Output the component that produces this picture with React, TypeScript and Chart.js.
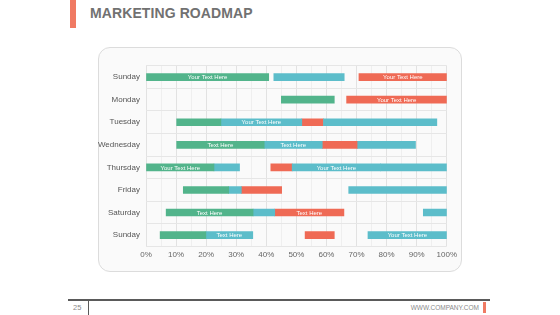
import React, { useEffect, useRef } from "react";
import { Chart, registerables } from "chart.js";

Chart.register(...registerables);

const categories = ["Sunday", "Monday", "Tuesday", "Wednesday", "Thursday", "Friday", "Saturday", "Sunday"];
const xTickValues = [0, 10, 20, 30, 40, 50, 60, 70, 80, 90, 100];

type Seg = [number, number] | null;

const greenBars: Seg[] = [[0, 40.8], [45, 62.6], [10.2, 24.9], [10.2, 39.3], [0, 22.6], [12.4, 27.5], [6.7, 35.6], [4.7, 19.9]];
const cyanBarsA: Seg[] = [[42.5, 65.9], null, [24.9, 51.8], [39.3, 58.6], [22.6, 31.1], [27.5, 31.7], [35.6, 42.8], [19.9, 35.5]];
const cyanBarsB: Seg[] = [null, null, [59, 96.7], [70.4, 89.6], [48.6, 78], [67.4, 100], [92.2, 100], [73.8, 100]];
const cyanBarsC: Seg[] = [null, null, null, null, [78, 100], null, null, null];
const redBars: Seg[] = [[70.8, 100], [66.7, 100], [51.8, 59], [58.6, 70.4], [41.5, 48.6], [31.7, 45.1], [42.8, 65.8], [52.9, 62.6]];

const greenLabels = ["Your Text Here", null, null, "Text Here", "Your Text Here", null, "Text Here", null];
const cyanALabels = [null, null, "Your Text Here", "Text Here", null, null, null, "Text Here"];
const cyanBLabels = [null, null, null, null, "Your Text Here", null, null, "Your Text Here"];
const cyanCLabels = [null, null, null, null, null, null, null, null];
const redLabels = ["Your Text Here", "Your Text Here", null, null, null, null, "Text Here", null];

const GREEN = "#52b48b";
const CYAN = "#5cbdca";
const RED = "#ef6a55";

const barLabelPlugin = {
  id: "barLabels",
  afterDatasetsDraw(chart: any) {
    const ctx = chart.ctx;
    ctx.save();
    ctx.fillStyle = "#ffffff";
    ctx.font = "6px Arial, 'Liberation Sans', sans-serif";
    ctx.textAlign = "center";
    ctx.textBaseline = "middle";
    chart.data.datasets.forEach((ds: any, di: number) => {
      const meta = chart.getDatasetMeta(di);
      const labels = ds.segLabels || [];
      meta.data.forEach((el: any, i: number) => {
        const t = labels[i];
        if (!t || !ds.data[i]) return;
        const cx = (el.x + el.base) / 2;
        ctx.fillText(t, cx, el.y + 0.5);
      });
    });
    ctx.restore();
  },
};

function RoadmapChart() {
  const ref = useRef<HTMLCanvasElement | null>(null);
  useEffect(() => {
    if (!ref.current) return;
    const mk = (data: Seg[], color: string, labels: any[]) => ({
      data: data as any,
      backgroundColor: color,
      borderWidth: 0,
      barThickness: 7,
      grouped: false,
      segLabels: labels,
    });
    const chart = new Chart(ref.current, {
      type: "bar",
      data: {
        labels: categories,
        datasets: [
          mk(greenBars, GREEN, greenLabels),
          mk(cyanBarsA, CYAN, cyanALabels),
          mk(cyanBarsB, CYAN, cyanBLabels),
          mk(cyanBarsC, CYAN, cyanCLabels),
          mk(redBars, RED, redLabels),
        ] as any,
      },
      options: {
        indexAxis: "y",
        animation: false,
        responsive: false,
        maintainAspectRatio: false,
        layout: { padding: { top: 4.6, right: 12, left: 0, bottom: 0 } },
        plugins: { legend: { display: false }, tooltip: { enabled: false } },
        scales: {
          x: {
            min: 0,
            max: 100,
            afterFit: (s: any) => {
              s.height = 21.6;
            },
            afterBuildTicks: (s: any) => {
              const t: any[] = [];
              for (let v = 0; v <= 100; v += 5) t.push({ value: v });
              s.ticks = t;
            },
            ticks: {
              autoSkip: false,
              maxRotation: 0,
              padding: 4,
              color: "#666666",
              font: { size: 8, family: "Arial, 'Liberation Sans', sans-serif" },
              callback: (v: any) => (xTickValues.includes(Number(v)) ? v + "%" : ""),
            },
            grid: {
              drawTicks: false,
              color: (c: any) => (c.tick && c.tick.value % 10 === 0 ? "#e2e2e2" : "#efefef"),
              lineWidth: 1,
            },
            border: { display: false },
          },
          y: {
            afterFit: (s: any) => {
              s.width = 48;
            },
            ticks: {
              padding: 6,
              color: "#555555",
              font: { size: 8, family: "Arial, 'Liberation Sans', sans-serif" },
            },
            grid: { drawTicks: false, color: "#e6e6e6", offset: true },
            border: { display: false },
          },
        },
      },
      plugins: [barLabelPlugin],
    } as any);
    return () => chart.destroy();
  }, []);
  return <canvas ref={ref} width={363} height={213} style={{ position: "absolute", left: 98, top: 55, width: 363, height: 213 }} />;
}

export default function App() {
  const font = "Arial, 'Liberation Sans', sans-serif";
  return (
    <div style={{ position: "fixed", left: 0, top: 0, width: 560, height: 315, background: "#ffffff", overflow: "hidden", fontFamily: font }}>
      <div style={{ position: "absolute", left: 70, top: 0, width: 6, height: 28, background: "#f07a63" }} />
      <div style={{ position: "absolute", left: 90, top: 4, fontSize: 14, fontWeight: "bold", color: "#717171", letterSpacing: 0.1, lineHeight: "18px", whiteSpace: "nowrap" }}>
        MARKETING ROADMAP
      </div>
      <div style={{ position: "absolute", left: 98, top: 47, width: 364, height: 225, border: "1px solid #dcdcdc", borderRadius: 12, background: "#fafafa", boxSizing: "border-box" }} />
      <RoadmapChart />
      <div style={{ position: "absolute", left: 68, top: 299, width: 422, height: 1.5, background: "#5a5a5a" }} />
      <div style={{ position: "absolute", left: 88, top: 300, width: 1, height: 15, background: "#5a5a5a" }} />
      <div style={{ position: "absolute", left: 73, top: 304, fontSize: 7.5, color: "#8a8a8a", lineHeight: "8px" }}>25</div>
      <div style={{ position: "absolute", right: 81, top: 304, fontSize: 6.5, color: "#8a8a8a", lineHeight: "8px", whiteSpace: "nowrap" }}>WWW.COMPANY.COM</div>
      <div style={{ position: "absolute", left: 483, top: 302, width: 3, height: 11, background: "#f07a63" }} />
    </div>
  );
}
